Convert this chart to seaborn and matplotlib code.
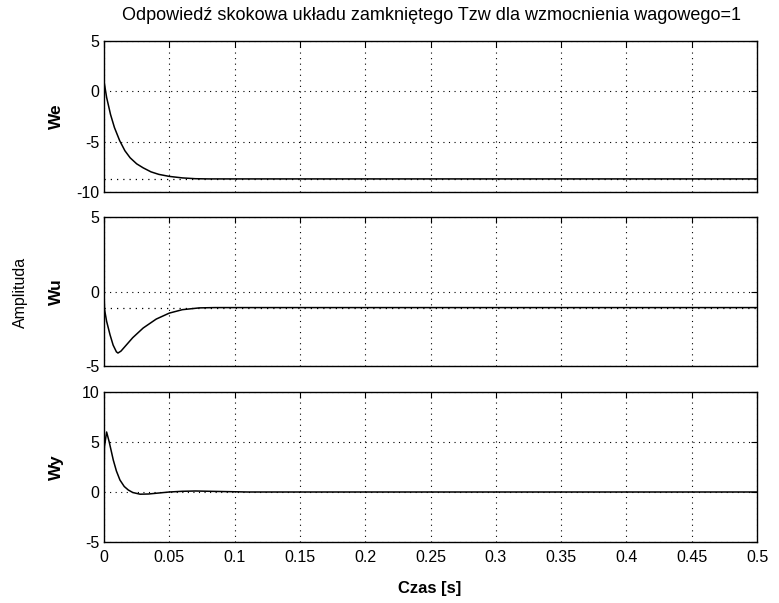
import numpy as np
import pandas as pd
import matplotlib
matplotlib.use("Agg")
import matplotlib.pyplot as plt
import seaborn as sns

# time samples (s)
t_we = [0.0, 0.002, 0.005, 0.008, 0.012, 0.016, 0.020, 0.025, 0.030, 0.036, 0.042, 0.050, 0.060, 0.070, 0.080, 0.5]
we = [1.0, -0.6, -2.3, -3.6, -4.9, -5.9, -6.6, -7.2, -7.6, -8.0, -8.25, -8.45, -8.6, -8.68, -8.7, -8.7]

t_wu = [0.0, 0.0004, 0.002, 0.0046, 0.007, 0.0095, 0.0107, 0.013, 0.017, 0.022, 0.030, 0.040, 0.050, 0.060, 0.073, 0.085, 0.5]
wu = [0.0, -1.2, -2.0, -2.9, -3.6, -4.05, -4.13, -4.0, -3.6, -3.1, -2.45, -1.85, -1.45, -1.22, -1.1, -1.08, -1.08]

t_wy = [0.0, 0.0003, 0.002, 0.004, 0.0071, 0.0095, 0.0122, 0.0155, 0.0186, 0.022, 0.0276, 0.034, 0.042, 0.050, 0.060, 0.070, 0.085, 0.11, 0.5]
wy = [0.0, 4.5, 6.0, 5.0, 3.2, 2.1, 1.2, 0.55, 0.2, -0.05, -0.22, -0.2, -0.1, 0.0, 0.07, 0.1, 0.06, 0.0, 0.0]

final_we = -8.7
final_wu = -1.08

xticks = [0, 0.05, 0.1, 0.15, 0.2, 0.25, 0.3, 0.35, 0.4, 0.45, 0.5]
xticklabels = ["0", "0.05", "0.1", "0.15", "0.2", "0.25", "0.3", "0.35", "0.4", "0.45", "0.5"]

sns.set_style("white")
plt.rcParams["font.family"] = ["Liberation Sans", "DejaVu Sans"]
plt.rcParams["axes.unicode_minus"] = False
plt.rcParams["xtick.direction"] = "in"
plt.rcParams["ytick.direction"] = "in"
plt.rcParams["text.color"] = "black"
plt.rcParams["axes.labelcolor"] = "black"

fig = plt.figure(figsize=(7.79, 6.03), dpi=100)
W, H = 779, 603
left, right = 104, 757

def mkax(ytop, ybot):
    return fig.add_axes([left / W, 1 - ybot / H, (right - left) / W, (ybot - ytop) / H])

ax1 = mkax(41, 192)
ax2 = mkax(217, 366)
ax3 = mkax(392, 542)

panels = [
    (ax1, t_we, we, "We", (-10, 5), [-10, -5, 0, 5], final_we),
    (ax2, t_wu, wu, "Wu", (-5, 5), [-5, 0, 5], final_wu),
    (ax3, t_wy, wy, "Wy", (-5, 10), [-5, 0, 5, 10], None),
]

for ax, tt, yy, name, ylim, yt, fin in panels:
    df = pd.DataFrame({"t": tt, "v": yy})
    if fin is not None:
        ax.axhline(fin, color="black", linestyle=(0, (1, 4)), linewidth=0.9, zorder=1)
    sns.lineplot(data=df, x="t", y="v", ax=ax, color="black", linewidth=1.1, zorder=3)
    ax.set_xlim(0, 0.5)
    ax.set_ylim(*ylim)
    ax.set_yticks(yt)
    ax.set_xticks(xticks)
    ax.grid(True, color="black", linestyle=(0, (1, 4)), linewidth=0.8)
    for s in ax.spines.values():
        s.set_color("black")
        s.set_linewidth(1.0)
        s.set_visible(True)
    ax.tick_params(axis="both", length=4, width=0.8, colors="black", labelcolor="black",
                   labelsize=11.5, top=True, right=True)
    ax.tick_params(axis="x", pad=6)
    ax.set_ylabel(name, fontsize=12.5, fontweight="bold", color="black")
    ax.set_xlabel("")
    if ax is ax3:
        ax.set_xticklabels(xticklabels)
    else:
        ax.set_xticklabels([])

for ax in (ax1, ax2, ax3):
    ax.yaxis.set_label_coords(-0.061, 0.5)

fig.text((120 + 742) / 2 / W, 1 - 16 / H,
         "Odpowiedź skokowa układu zamkniętego Tzw dla wzmocnienia wagowego=1",
         fontsize=13, ha="center", va="center", color="black")
fig.text(430 / W, 1 - 588 / H, "Czas [s]", fontsize=12, fontweight="bold",
         ha="center", va="center", color="black")
fig.text(20 / W, 1 - 292 / H, "Amplituda", rotation=90, ha="center", va="center",
         fontsize=11.5, color="black")

fig.savefig("out.png", dpi=100, facecolor="white")
